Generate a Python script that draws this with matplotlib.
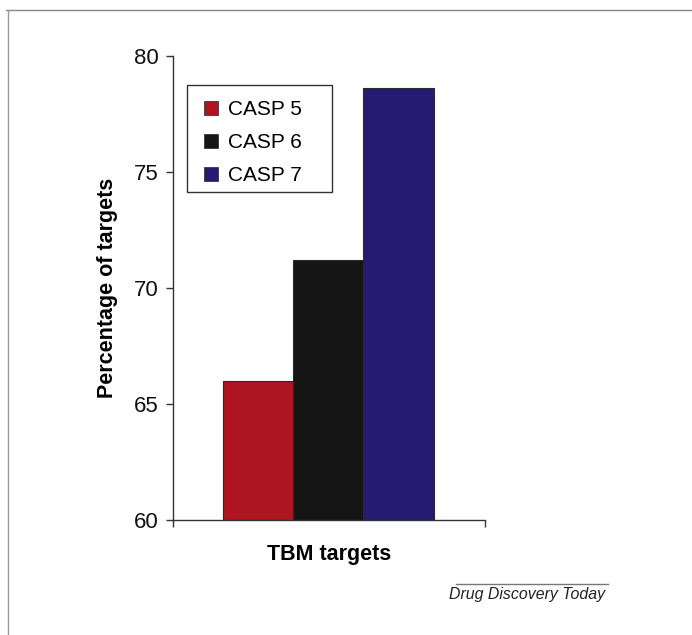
import numpy as np
import matplotlib.pyplot as plt
from matplotlib.patches import Patch, Rectangle
from matplotlib.lines import Line2D

plt.rcParams['font.family'] = ['Liberation Sans', 'DejaVu Sans']

series = ['CASP 5', 'CASP 6', 'CASP 7']
values = [66.0, 71.2, 78.6]
bar_colors = ['#AE1520', '#151515', '#251B73']
yticks = [60, 65, 70, 75, 80]

W, H = 692, 635
fig = plt.figure(figsize=(W/100, H/100), dpi=100)
ax = fig.add_axes([173/W, 1-520/H, 312/W, 464/H])

x = np.arange(len(series))
ax.bar(x, np.array(values) - 60, bottom=60, width=1.0, color=bar_colors,
       edgecolor='#2a2a2a', linewidth=0.8)

xlim = (-1.21, 3.23)
ax.set_xticks(list(xlim))
ax.set_xticklabels(['', ''])
ax.set_xlim(*xlim)
ax.set_yticks(yticks)
ax.set_ylim(60, 80)

for s in ['top', 'right']:
    ax.spines[s].set_visible(False)
for s in ['left', 'bottom']:
    ax.spines[s].set_color('#333333')
    ax.spines[s].set_linewidth(1.0)
ax.tick_params(axis='both', direction='out', length=5, width=1.0, color='#333333')
ax.tick_params(axis='y', labelsize=16, pad=5, labelcolor='#111111')

ax.set_ylabel('Percentage of targets', fontsize=15.5, fontweight='bold', labelpad=12)
ax.set_xlabel('TBM targets', fontsize=15.5, fontweight='bold', labelpad=9)

# legend: entries without frame, box drawn separately (wide right margin as in the original)
handles = [Patch(facecolor=c, edgecolor='#222222', linewidth=0.5) for c in bar_colors]
leg = ax.legend(handles, series, loc='upper left', bbox_to_anchor=(204/W, 1-100/H),
                bbox_transform=fig.transFigure, fontsize=15, frameon=False,
                handlelength=0.68, handleheight=0.68, handletextpad=0.45,
                labelspacing=0.68, borderpad=0, borderaxespad=0)
fig.add_artist(Rectangle((187/W, 1-192/H), 145/W, 107/H, transform=fig.transFigure,
                         fill=False, edgecolor='#333333', lw=1.0))

# journal footer and page frame
fig.add_artist(Line2D([456/W, 608/W], [1-584/H, 1-584/H], color='#777777', lw=1))
fig.text(605/W, 1-599/H, 'Drug Discovery Today', ha='right', va='baseline',
         fontsize=11.4, style='italic', color='#222222')
fig.add_artist(Line2D([6/W, 1], [1-10/H, 1-10/H], color='#888888', lw=1))
fig.add_artist(Line2D([8/W, 8/W], [0, 1-10/H], color='#999999', lw=1))

fig.savefig('out.png', dpi=100)
